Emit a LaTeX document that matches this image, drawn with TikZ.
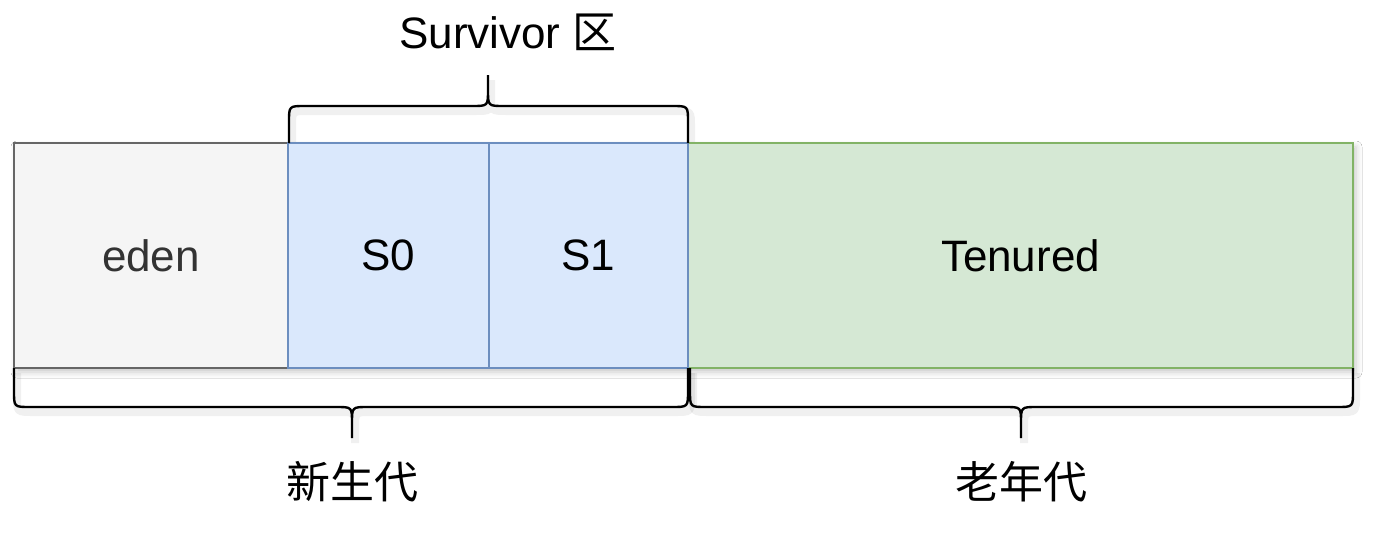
\documentclass[tikz,border=0pt]{standalone}
\usepackage{fontspec}
\setmainfont{Liberation Sans}
\newfontfamily\cjk{Noto Sans CJK SC}
\usetikzlibrary{shadows.blur}
\definecolor{edenfill}{HTML}{F5F5F5}
\definecolor{edenline}{HTML}{666666}
\definecolor{edentext}{HTML}{333333}
\definecolor{sfill}{HTML}{DAE8FC}
\definecolor{sline}{HTML}{6C8EBF}
\definecolor{tfill}{HTML}{D5E8D4}
\definecolor{tline}{HTML}{82B366}
% #1 style, #2 x-left, #3 x-mid, #4 x-right, #5 y-base, #6 y-horizontal, #7 y-tip, #8 signed radius
\newcommand{\mybrace}[8]{%
  \draw[#1] (#2,#5) -- (#2,#6-#8) .. controls (#2,#6) .. (#2+16,#6) -- (#3-16,#6)
    .. controls (#3,#6) .. (#3,#6+#8) -- (#3,#7)
    (#3,#6+#8) .. controls (#3,#6) .. (#3+16,#6) -- (#4-16,#6)
    .. controls (#4,#6) .. (#4,#6-#8) -- (#4,#5);}
\tikzset{
  region/.style={draw, line width=1.3pt, inner sep=0pt, outer sep=0pt, anchor=north west,
    minimum height=112.5pt, font=\fontsize{22}{26}\selectfont},
  shade/.style={blur shadow={shadow xshift=1.5pt, shadow yshift=-2pt, shadow blur radius=3pt, shadow opacity=22}},
  bracepath/.style={draw=black, line width=1.2pt},
  braceshade/.style={draw=black, opacity=0.06, line width=4pt},
  lbl/.style={inner sep=0pt, font=\fontsize{22}{26}\selectfont},
}
\begin{document}
\begin{tikzpicture}[x=0.5pt,y=-0.5pt]
\fill[white] (0,0) rectangle (1396,546);
\useasboundingbox (0,0) rectangle (1396,546);
% brace shadows
\begin{scope}[shift={(3,5)}]
\mybrace{braceshade}{289}{488}{688}{143}{106}{75}{-16}
\mybrace{braceshade}{14}{352}{688}{368}{407}{438}{16}
\mybrace{braceshade}{690}{1021}{1353}{368}{407}{438}{16}
\end{scope}
% common shadow of the row of regions
\path[shade, fill=white] (14,143) rectangle (1353,368);
% regions
\node[region, fill=edenfill, draw=edenline, text=edentext, minimum width=137pt] (eden) at (14,143) {eden};
\node[region, fill=tfill, draw=tline, minimum width=332.5pt] (ten) at (688,143) {Tenured};
\node[region, fill=sfill, draw=sline, minimum width=100.5pt] (s0) at (288,143) {S0};
\node[region, fill=sfill, draw=sline, minimum width=99.5pt] (s1) at (489,143) {S1};
% braces
\mybrace{bracepath}{289}{488}{688}{143}{106}{75}{-16}
\mybrace{bracepath}{14}{352}{688}{368}{407}{438}{16}
\mybrace{bracepath}{690}{1021}{1353}{368}{407}{438}{16}
% labels
\node[lbl] (surv) at (508,32) {Survivor {\cjk 区}};
\node[lbl] (young) at (352,482) {\cjk 新生代};
\node[lbl] (old) at (1021,482) {\cjk 老年代};
\end{tikzpicture}
\end{document}
